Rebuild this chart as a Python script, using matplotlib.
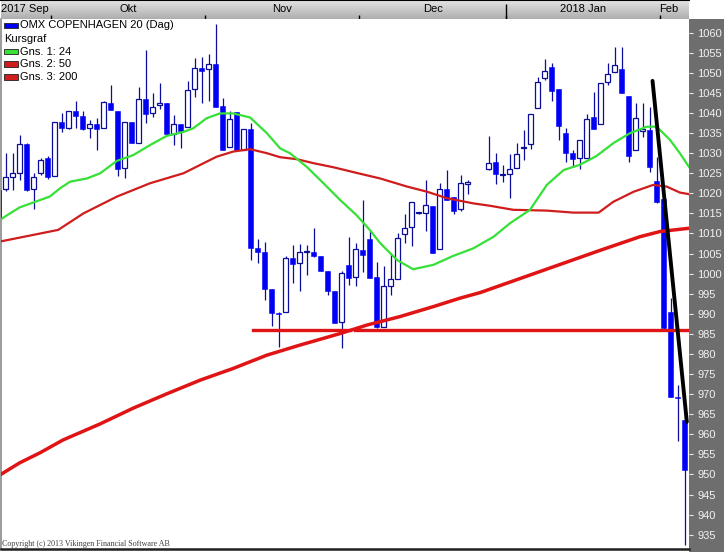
import matplotlib
matplotlib.use('Agg')
import matplotlib.pyplot as plt
from matplotlib.patches import Rectangle
from matplotlib.colors import LinearSegmentedColormap
import numpy as np

plt.rcParams['font.family'] = ['Liberation Sans', 'DejaVu Sans']

# --- data: one slot per trading day, 67/68 are the Christmas holidays ---
candle_x = list(range(-1, 67)) + list(range(69, 98))
opens = [1020.8, 1021.0, 1024.1, 1025.1, 1032.3, 1021.2, 1025.1, 1028.7, 1024.4, 1037.8,
         1036.3, 1040.6, 1039.2, 1036.2, 1037.2, 1036.2, 1042.6, 1040.6, 1026.2, 1037.8,
         1032.6, 1043.6, 1040.1, 1041.9, 1042.4, 1034.7, 1037.2, 1036.6, 1046.0, 1051.1,
         1050.9, 1052.1, 1041.8, 1031.6, 1040.3, 1030.8, 1036.0, 1006.3, 1005.3, 996.1,
         990.3, 990.5, 1003.8, 1002.6, 1005.3, 1005.3, 1004.5, 1000.7, 995.7, 988.0,
         1002.2, 999.1, 1005.9, 1008.6, 999.1, 986.6, 996.9, 998.6, 1009.9, 1011.7,
         1015.0, 1015.2, 1016.9, 1006.1, 1021.0, 1019.0, 1016.0, 1022.4,
         1026.0, 1027.7, 1024.5, 1024.7, 1026.4, 1031.2, 1032.2, 1041.2, 1048.8, 1051.4,
         1046.0, 1035.0, 1030.0, 1028.9, 1028.9, 1038.9, 1037.3, 1047.6, 1050.3, 1050.9,
         1044.2, 1030.8, 1035.6, 1035.8, 1023.0, 1018.6, 990.5, 969.4, 963.6]
highs = [1021.5, 1030.1, 1030.1, 1034.5, 1032.5, 1025.0, 1028.7, 1029.3, 1037.8, 1039.9,
         1040.6, 1043.1, 1040.6, 1038.2, 1038.7, 1043.1, 1047.0, 1040.6, 1037.8, 1037.8,
         1046.5, 1055.7, 1044.9, 1047.5, 1042.4, 1039.5, 1037.2, 1048.0, 1053.6, 1054.0,
         1054.7, 1062.2, 1043.8, 1040.5, 1040.3, 1036.0, 1037.4, 1008.6, 1007.8, 996.1,
         990.5, 1004.4, 1007.1, 1007.3, 1007.1, 1011.4, 1004.5, 1000.7, 995.7, 1000.7,
         1009.1, 1007.6, 1018.3, 1010.8, 1002.8, 1001.8, 1005.1, 1010.0, 1014.9, 1017.9,
         1015.3, 1023.3, 1016.9, 1022.6, 1025.8, 1019.0, 1024.6, 1023.3,
         1034.3, 1030.0, 1027.1, 1029.8, 1032.5, 1035.8, 1039.7, 1049.0, 1053.4, 1052.4,
         1046.0, 1036.2, 1030.8, 1033.3, 1039.7, 1045.3, 1047.4, 1052.4, 1056.5, 1056.5,
         1044.2, 1042.4, 1042.4, 1041.5, 1029.0, 1018.6, 993.9, 972.3, 966.0]
lows = [1012.0, 1020.5, 1020.8, 1023.3, 1020.5, 1016.0, 1024.6, 1023.5, 1024.4, 1035.3,
        1035.9, 1036.2, 1035.8, 1033.7, 1030.9, 1036.2, 1040.7, 1024.3, 1023.7, 1032.6,
        1032.6, 1037.4, 1039.1, 1041.1, 1034.5, 1032.0, 1031.2, 1036.6, 1044.1, 1042.4,
        1043.0, 1041.6, 1030.8, 1031.6, 1030.8, 1030.8, 1003.4, 1002.7, 993.4, 987.0,
        981.8, 990.5, 997.6, 995.8, 999.7, 1004.1, 1000.7, 994.7, 987.8, 981.4,
        997.2, 996.9, 1000.5, 998.8, 986.4, 986.6, 994.7, 998.6, 1007.7, 1007.0,
        1014.8, 1010.5, 1005.2, 1006.1, 1018.3, 1014.8, 1015.7, 1019.9,
        1025.8, 1022.3, 1022.9, 1018.8, 1026.4, 1028.3, 1031.0, 1041.2, 1048.2, 1043.1,
        1033.3, 1027.9, 1026.7, 1026.0, 1028.9, 1036.0, 1037.3, 1047.0, 1050.3, 1045.1,
        1027.9, 1030.8, 1034.0, 1025.4, 1017.5, 986.0, 969.4, 958.4, 932.5]
closes = [1013.5, 1024.0, 1025.0, 1032.2, 1020.8, 1024.0, 1028.3, 1024.1, 1037.8, 1036.2,
          1040.6, 1039.2, 1035.9, 1037.2, 1035.9, 1042.8, 1040.7, 1026.0, 1037.8, 1032.6,
          1043.6, 1039.7, 1041.6, 1042.4, 1034.7, 1037.2, 1035.6, 1045.7, 1051.1, 1050.5,
          1052.1, 1041.6, 1030.8, 1038.4, 1030.8, 1036.0, 1006.3, 1005.3, 996.1, 990.3,
          989.9, 1003.8, 1002.3, 1005.5, 1005.6, 1004.5, 1000.7, 995.7, 987.8, 1000.1,
          998.8, 1006.1, 1004.6, 998.8, 986.8, 997.0, 998.6, 1008.8, 1011.3, 1017.8,
          1015.1, 1017.1, 1005.2, 1021.2, 1018.3, 1015.7, 1022.5, 1022.7,
          1027.5, 1024.7, 1024.7, 1026.0, 1029.8, 1031.6, 1039.7, 1047.8, 1050.5, 1045.6,
          1036.8, 1030.0, 1028.5, 1033.3, 1038.5, 1036.0, 1047.4, 1049.6, 1052.0, 1045.1,
          1029.3, 1038.7, 1036.0, 1026.6, 1017.9, 986.4, 969.4, 969.0, 951.0]

# moving averages (x in trading-day slots)
ma24_x = [-0.8, 0.6, 2.0, 3.9, 6.3, 7.8, 9.2, 11.6, 13.5, 15.9, 18.2, 20.6, 23.0, 25.4,
          26.8, 28.7, 30.6, 32.5, 34.9, 37.3, 39.2, 40.6, 43.0, 45.4, 47.8, 50.1, 52.0,
          53.5, 55.9, 58.2, 61.1, 63.9, 66.8, 69.7, 72.0, 74.9, 77.3, 79.7, 82.0, 84.4,
          86.8, 89.2, 91.6, 93.0, 94.9, 96.3, 97.6]
ma24 = [1013.4, 1015.0, 1016.5, 1017.7, 1019.2, 1021.3, 1022.9, 1023.7, 1025.0, 1028.1,
        1029.5, 1032.0, 1034.3, 1035.3, 1036.2, 1038.7, 1039.9, 1039.9, 1038.9, 1035.0,
        1031.2, 1030.0, 1026.6, 1022.5, 1018.3, 1014.6, 1010.9, 1007.6, 1003.4, 1001.1,
        1002.2, 1004.4, 1006.3, 1009.2, 1012.5, 1015.9, 1022.1, 1025.8, 1027.1, 1029.3,
        1032.5, 1035.0, 1036.6, 1036.6, 1033.3, 1030.0, 1026.6]
ma50_x = [-0.8, 3.5, 7.5, 11.1, 15.9, 20.6, 25.4, 30.1, 32.5, 34.9, 37.3, 39.2, 41.6, 44.0,
          46.8, 50.1, 53.5, 57.3, 60.2, 63.0, 66.8, 69.2, 72.5, 77.3, 81.1, 84.7, 86.8,
          89.7, 92.5, 94.4, 96.3, 97.6]
ma50 = [1008.0, 1009.5, 1010.9, 1015.0, 1019.2, 1022.5, 1025.0, 1029.1, 1030.4, 1031.0,
        1030.0, 1029.0, 1028.5, 1027.5, 1026.5, 1025.1, 1023.7, 1021.7, 1020.4, 1018.8,
        1017.5, 1016.9, 1015.9, 1015.7, 1015.2, 1015.2, 1017.9, 1020.4, 1022.1, 1021.7,
        1020.2, 1019.8]
ma200_x = [-0.8, 2.0, 4.9, 8.2, 13.5, 18.2, 22.9, 27.8, 32.5, 37.3, 42.0, 47.8, 51.6, 56.3,
           61.1, 64.9, 67.8, 73.5, 79.2, 84.9, 90.6, 93.5, 97.6]
ma200 = [949.9, 952.9, 955.4, 958.6, 962.6, 966.5, 970.0, 973.5, 976.4, 979.7, 982.2, 985.1,
         987.2, 989.3, 991.8, 993.9, 995.3, 998.8, 1002.3, 1005.8, 1009.2, 1010.5, 1011.3]

support_level = 986.0
support_x = [(35.3, 49.2), (49.9, 97.7)]
trend_x = [92.4, 97.3]
trend_y = [1048.0, 963.1]

months = ['2017 Sep', 'Okt', 'Nov', 'Dec', '2018 Jan', 'Feb']
month_label_x = [None, 17.5, 39.5, 61.0, 82.5, 94.7]
month_bounds = [6.5, 28.5, 50.5, 71.5, 93.5]
year_bound = 71.5

legend_names = ['OMX COPENHAGEN 20 (Dag)', 'Kursgraf', 'Gns. 1: 24', 'Gns. 2: 50', 'Gns. 3: 200']

BLUE = '#0000f4'
WICK = '#0c0c9a'
GREEN = '#36e036'
RED50 = '#d01c1c'
RED200 = '#e01414'

W, H = 724, 552
fig = plt.figure(figsize=(W / 100, H / 100), dpi=100)
fig.patch.set_facecolor('white')

def fx(px):
    return px / W

def fy(py):
    return 1 - py / H

xlim = (-0.671, 97.61)
ylim = (931.44, 1063.41)

ax = fig.add_axes([fx(1), fy(549), fx(688), (549 - 19) / H])
ax.set_xlim(xlim)
ax.set_ylim(ylim)

x = np.array(candle_x)
o = np.array(opens)
hi = np.array(highs)
lo = np.array(lows)
c = np.array(closes)
up = c >= o
body_lo = np.minimum(o, c)
body_h = np.maximum(np.abs(c - o), 0.3)

ax.vlines(x, lo, hi, color=WICK, lw=0.9, zorder=2)
ax.bar(x[up], body_h[up], 0.68, bottom=body_lo[up], facecolor='white',
       edgecolor=WICK, lw=0.9, zorder=3)
ax.bar(x[~up], body_h[~up], 0.72, bottom=body_lo[~up], facecolor=BLUE,
       edgecolor=BLUE, lw=0.4, zorder=3)

ax.plot(ma200_x, ma200, color=RED200, lw=2.5, zorder=4)
ax.plot(ma50_x, ma50, color=RED50, lw=1.6, zorder=4)
ax.plot(ma24_x, ma24, color=GREEN, lw=1.6, zorder=4)
for a, b in support_x:
    ax.plot([a, b], [support_level, support_level], color=RED200, lw=2.4, zorder=5)
ax.plot(trend_x, trend_y, color='black', lw=2.8, zorder=6, solid_capstyle='round')

# price scale on the right
ax.set_xticks([])
ax.yaxis.tick_right()
ax.set_yticks(np.arange(935, 1061, 5))
ax.tick_params(axis='y', direction='out', length=3, width=0.8, color='#e8e8e8',
               labelcolor='#f2f2f2', labelsize=8, pad=3)
ax.spines['top'].set_visible(False)
ax.spines['right'].set_visible(False)
ax.spines['left'].set_color('#8a8a8a')
ax.spines['left'].set_linewidth(1.2)
ax.spines['bottom'].set_color('#202020')
ax.spines['bottom'].set_linewidth(1.8)

fig.patches.append(Rectangle((fx(689), 0), fx(35), 1 - 19 / H, transform=fig.transFigure,
                             facecolor='#6e6e6e', edgecolor='none', zorder=-1))

# month bar on top
axt = fig.add_axes([fx(1), fy(19), fx(688), 19 / H])
cmap = LinearSegmentedColormap.from_list('bar', ['#aeaeae', '#e4e4e4'])
grad = np.linspace(0, 1, 50).reshape(-1, 1)
axt.imshow(grad, extent=[xlim[0], xlim[1], 0, 1], aspect='auto', cmap=cmap,
           origin='lower', zorder=0)
axt.set_xlim(xlim)
axt.set_ylim(0, 1)
axt.set_xticks([])
axt.set_yticks([])
for s in ['left', 'right', 'bottom']:
    axt.spines[s].set_visible(False)
axt.spines['top'].set_color('black')
axt.spines['top'].set_linewidth(1.5)
axt.vlines(month_bounds, 0, 0.2, color='black', lw=1.0)
axt.vlines([year_bound], 0, 0.8, color='black', lw=1.0)
axt.text(xlim[0], 0.55, months[0], ha='left', va='center', fontsize=8)
for name, pos in zip(months[1:], month_label_x[1:]):
    axt.text(pos, 0.55, name, ha='center', va='center', fontsize=8)

# legend block
legend_colors = [BLUE, None, GREEN, RED50, RED50]
legend_y = [25.5, 39, 51.7, 64.3, 77.3]
for name, col, py in zip(legend_names, legend_colors, legend_y):
    if col is not None:
        fig.patches.append(Rectangle((fx(4), fy(py + 2.8)), fx(14), 5.6 / H,
                                     transform=fig.transFigure, facecolor=col,
                                     edgecolor='#202020', lw=0.6, zorder=5))
        tx = 20
    else:
        tx = 4
    fig.text(fx(tx), fy(py), name, ha='left', va='center', fontsize=8, zorder=6)

fig.text(fx(2), fy(546), 'Copyright (c) 2013 Vikingen Financial Software AB',
         family='Liberation Serif', fontsize=5.8, color='#404040', va='baseline')

fig.savefig('out.png', dpi=100)
